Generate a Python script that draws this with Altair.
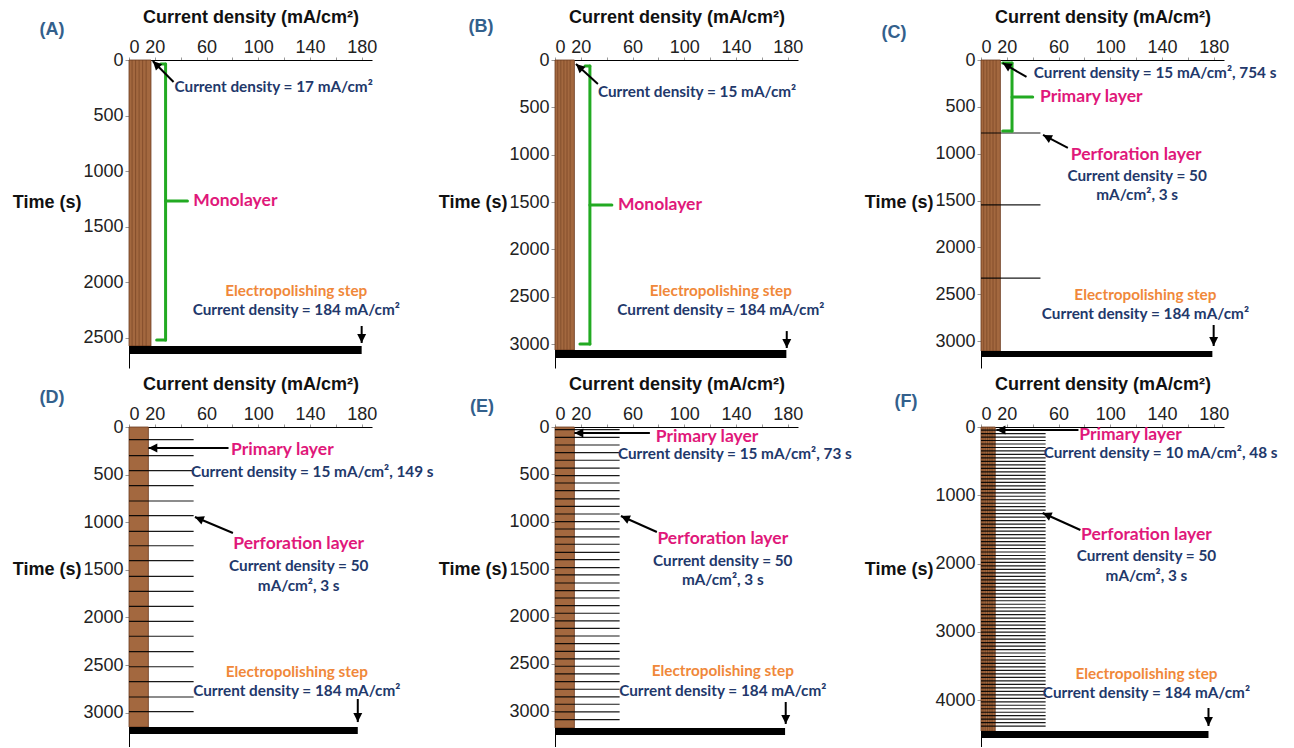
import altair as alt
import pandas as pd

# ---------------- data ----------------
panel_names = ["(A)", "(B)", "(C)", "(D)", "(E)", "(F)"]
primary_cd = [17, 15, 15, 15, 15, 11]            # mA/cm2 (width of the brown column)
polish_start = [2572, 3062, 3106, 3151, 3175, 4451]  # s
polish_end = [2644, 3147, 3170, 3225, 3249, 4553]    # s
polish_cd = [180, 179, 179, 177, 178, 176]
time_max = [2770, 3252, 3287, 3361, 3376, 4685]
time_ticks = [
    [0, 500, 1000, 1500, 2000, 2500],
    [0, 500, 1000, 1500, 2000, 2500, 3000],
    [0, 500, 1000, 1500, 2000, 2500, 3000],
    [0, 500, 1000, 1500, 2000, 2500, 3000],
    [0, 500, 1000, 1500, 2000, 2500, 3000],
    [0, 1000, 2000, 3000, 4000],
]
cd_ticks = [0, 20, 40, 60, 80, 100, 120, 140, 160, 180]
cd_tick_labels = [0, 20, 60, 100, 140, 180]
striped = [True, True, True, False, False, True]

perf_cd = [0, 0, 46, 50, 50, 50]
perf_times = [
    [],
    [],
    [779, 1547, 2327],
    [133, 301, 459, 616, 777, 931, 1096, 1247, 1404, 1568, 1726, 1883, 2041,
     2198, 2360, 2518, 2675, 2836, 2990],
    [28, 109, 190, 271, 351, 433, 514, 591, 672, 759, 837, 918, 999, 1076,
     1160, 1237, 1322, 1400, 1484, 1561, 1646, 1727, 1804, 1885, 1965, 2046,
     2124, 2205, 2286, 2367, 2447, 2524, 2605, 2686, 2767, 2848, 2925, 3006, 3087],
    [45, 96, 147, 198, 249, 300, 351, 402, 453, 504,
     555, 606, 657, 708, 759, 810, 861, 912, 963, 1014,
     1065, 1116, 1167, 1218, 1269, 1320, 1371, 1422, 1473, 1524,
     1575, 1626, 1677, 1728, 1779, 1830, 1881, 1932, 1983, 2034,
     2085, 2136, 2187, 2238, 2289, 2340, 2391, 2442, 2493, 2544,
     2595, 2646, 2697, 2748, 2799, 2850, 2901, 2952, 3003, 3054,
     3105, 3156, 3207, 3258, 3309, 3360, 3411, 3462, 3513, 3564,
     3615, 3666, 3717, 3768, 3819, 3870, 3921, 3972, 4023, 4074,
     4125, 4176, 4227, 4278, 4329, 4380],
]

# annotations: panel, text, x (mA/cm2), t (s), kind, align
ann_panel = [0, 0, 0, 0,
             1, 1, 1, 1,
             2, 2, 2, 2, 2, 2, 2,
             3, 3, 3, 3, 3, 3, 3,
             4, 4, 4, 4, 4, 4, 4,
             5, 5, 5, 5, 5, 5, 5]
ann_text = [
    "Current density = 17 mA/cm²", "Monolayer", "Electropolishing step", "Current density = 184 mA/cm²",
    "Current density = 15 mA/cm²", "Monolayer", "Electropolishing step", "Current density = 184 mA/cm²",
    "Current density = 15 mA/cm², 754 s", "Primary layer", "Perforation layer", "Current density = 50",
    "mA/cm², 3 s", "Electropolishing step", "Current density = 184 mA/cm²",
    "Primary layer", "Current density = 15 mA/cm², 149 s", "Perforation layer", "Current density = 50",
    "mA/cm², 3 s", "Electropolishing step", "Current density = 184 mA/cm²",
    "Primary layer", "Current density = 15 mA/cm², 73 s", "Perforation layer", "Current density = 50",
    "mA/cm², 3 s", "Electropolishing step", "Current density = 184 mA/cm²",
    "Primary layer", "Current density = 10 mA/cm², 48 s", "Perforation layer", "Current density = 50",
    "mA/cm², 3 s", "Electropolishing step", "Current density = 184 mA/cm²",
]
ann_x = [35.2, 49.8, 129.4, 129.4,
         33.2, 48.7, 128.3, 128.3,
         40.8, 45.6, 120.0, 120.8, 120.8, 127.2, 127.2,
         79.0, 47.9, 131.3, 131.3, 131.3, 129.8, 129.8,
         78.0, 48.7, 129.8, 129.8, 129.8, 129.8, 129.8,
         76.0, 48.5, 128.0, 128.0, 128.0, 128.0, 128.0]
ann_t = [243, 1268, 2077, 2248,
         338, 1531, 2439, 2640,
         139, 395, 1014, 1238, 1441, 2508, 2711,
         242, 473, 1229, 1460, 1670, 2574, 2773,
         105, 285, 1181, 1414, 1614, 2574, 2785,
         110, 380, 1581, 1889, 2182, 3616, 3895]
ann_kind = ["navy", "pink", "orange", "navy",
            "navy", "pink", "orange", "navy",
            "navy", "pink", "pink", "navy", "navy", "orange", "navy",
            "pink", "navy", "pink", "navy", "navy", "orange", "navy",
            "pink", "navy", "pink", "navy", "navy", "orange", "navy",
            "pink", "navy", "pink", "navy", "navy", "orange", "navy"]
ann_align = ["left", "left", "center", "center",
             "left", "left", "center", "center",
             "left", "left", "center", "center", "center", "center", "center",
             "left", "left", "center", "center", "center", "center", "center",
             "left", "left", "center", "center", "center", "center", "center",
             "left", "left", "center", "center", "center", "center", "center"]

# arrows: panel, tail (x, t), head (x, t), heading (deg clockwise from up)
arr_panel = [0, 0, 1, 1, 2, 2, 2, 3, 3, 3, 4, 4, 4, 5, 5, 5]
arr_xt = [34.5, 180, 33.2, 179.3, 35.2, 67.2, 180, 77.0, 80.4, 177, 73.4, 78.8, 178.5, 75.4, 76.9, 176]
arr_tt = [198, 2392, 253, 2862, 181, 939, 2828, 221, 1113, 2857, 63, 1108, 2901, 44, 1508, 4114]
arr_xh = [18.4, 180, 16.2, 179.3, 16.8, 48.0, 180, 15.0, 51.0, 177, 15.0, 51.0, 178.5, 12.0, 47.7, 176]
arr_th = [9, 2545, 42, 3041, 32, 800, 3052, 221, 945, 3099, 63, 939, 3133, 44, 1259, 4378]
arr_ang = [315, 180, 312, 180, 301, 298, 180, 270, 293, 180, 270, 294, 180, 270, 294, 180]

# green brackets: panel, segment x..x2 at t..t2
br_panel = [0, 0, 0, 0, 1, 1, 1, 1, 2, 2, 2, 2]
br_x = [28.3, 24.5, 21.4, 28.3, 27.0, 23.2, 19.3, 27.0, 24.0, 16.8, 16.8, 24.0]
br_x2 = [28.3, 28.3, 28.3, 45.2, 27.0, 27.0, 27.0, 44.0, 24.0, 24.0, 24.0, 40.0]
br_t = [36, 36, 2518, 1268, 63, 63, 2999, 1531, 32, 32, 758, 395]
br_t2 = [2518, 36, 2518, 1268, 2999, 63, 2999, 1531, 758, 32, 758, 395]

# ---------------- styles / layout ----------------
FONT_AX = "Liberation Sans"
FONT_ANN = "Lato"
COLORS = {"navy": "#22386B", "pink": "#E0187A", "orange": "#F0883A"}
SIZES = {"navy": 15.3, "pink": 17.5, "orange": 15.3}
GREEN = "#22AA22"
LABEL_BLUE = "#33608C"
BROWN = "#A3683F"
BROWN_DARK = "#6B3A1E"
STRIPE_FRAC = [0.14, 0.3, 0.46, 0.62, 0.78]
ARROW_PATH = "M0,0L-1,2L1,2Z"
PANEL_W = 243
PANEL_H = [308, 308, 308, 320, 320, 320]
LABEL_OFF = [(-77, -30), (-74, -33), (-87, -27), (-77, -29), (-73, -20), (-75, -25)]

label_expr = "indexof(%s, datum.value) >= 0 ? datum.label : ''" % str(cd_tick_labels)


def make_panel(i):
    xs = alt.Scale(domain=[0, 188], nice=False, zero=False)
    ys = alt.Scale(domain=[0, time_max[i]], nice=False, zero=False, reverse=True)
    xax = alt.Axis(orient="top", values=cd_ticks, labelExpr=label_expr,
                   title="Current density (mA/cm²)", titleFont=FONT_AX, titleFontSize=18,
                   titleFontWeight="bold", titleColor="#111", titlePadding=12,
                   labelFont=FONT_AX, labelFontSize=18, labelColor="#222", labelPadding=1,
                   labelOverlap=False, tickSize=3, tickColor="#999", domainColor="#000",
                   grid=False)
    yax = alt.Axis(orient="left", values=time_ticks[i], format="d", title="Time (s)", titleAngle=0,
                   titleAlign="right", titleBaseline="middle", titleX=-48, titleY=142,
                   titleFont=FONT_AX, titleFontSize=18, titleFontWeight="bold", titleColor="#111",
                   labelFont=FONT_AX, labelFontSize=18, labelColor="#222", labelPadding=2,
                   tickSize=4, tickColor="#999", domainColor="#000", grid=False)

    def X(f):
        return alt.X(f"{f}:Q", scale=xs, axis=xax)

    def Y(f):
        return alt.Y(f"{f}:Q", scale=ys, axis=yax)

    layers = []
    brown = pd.DataFrame({"x0": [0], "x1": [primary_cd[i]], "t0": [0], "t1": [polish_start[i]]})
    layers.append(alt.Chart(brown).mark_rect(color=BROWN, stroke=BROWN_DARK, strokeWidth=0.8)
                  .encode(x=X("x0"), x2="x1", y=Y("t0"), y2="t1"))
    if striped[i]:
        st = pd.DataFrame({"x": [f * primary_cd[i] for f in STRIPE_FRAC],
                           "t0": [0] * len(STRIPE_FRAC),
                           "t1": [polish_start[i]] * len(STRIPE_FRAC)})
        layers.append(alt.Chart(st).mark_rule(color=BROWN_DARK, strokeWidth=1, opacity=0.55)
                      .encode(x=X("x"), y=Y("t0"), y2="t1"))
    if perf_times[i]:
        pl = pd.DataFrame({"t": perf_times[i], "x0": [0] * len(perf_times[i]),
                           "x1": [perf_cd[i]] * len(perf_times[i])})
        layers.append(alt.Chart(pl).mark_rule(color="#000", strokeWidth=1.2, opacity=0.9)
                      .encode(x=X("x0"), x2="x1", y=Y("t")))
    bar = pd.DataFrame({"x0": [0], "x1": [polish_cd[i]], "t0": [polish_start[i]], "t1": [polish_end[i]]})
    layers.append(alt.Chart(bar).mark_rect(color="#000")
                  .encode(x=X("x0"), x2="x1", y=Y("t0"), y2="t1"))

    bidx = [k for k, p in enumerate(br_panel) if p == i]
    if bidx:
        bd = pd.DataFrame({"x": [br_x[k] for k in bidx], "x2": [br_x2[k] for k in bidx],
                           "t": [br_t[k] for k in bidx], "t2": [br_t2[k] for k in bidx]})
        layers.append(alt.Chart(bd).mark_rule(color=GREEN, strokeWidth=3, strokeCap="round")
                      .encode(x=X("x"), x2="x2", y=Y("t"), y2="t2"))

    aidx = [k for k, p in enumerate(arr_panel) if p == i]
    ad = pd.DataFrame({"xt": [arr_xt[k] for k in aidx], "tt": [arr_tt[k] for k in aidx],
                       "xh": [arr_xh[k] for k in aidx], "th": [arr_th[k] for k in aidx],
                       "ang": [arr_ang[k] for k in aidx]})
    layers.append(alt.Chart(ad).mark_rule(color="#000", strokeWidth=2)
                  .encode(x=X("xt"), x2="xh", y=Y("tt"), y2="th"))
    layers.append(alt.Chart(ad).mark_point(shape=ARROW_PATH, filled=True, size=80, color="#000", opacity=1)
                  .encode(x=X("xh"), y=Y("th"), angle=alt.Angle("ang:Q", scale=None)))

    for kind in ["navy", "pink", "orange"]:
        for al in ["left", "center"]:
            idx = [k for k, p in enumerate(ann_panel)
                   if p == i and ann_kind[k] == kind and ann_align[k] == al]
            if not idx:
                continue
            td = pd.DataFrame({"label": [ann_text[k] for k in idx],
                               "x": [ann_x[k] for k in idx], "t": [ann_t[k] for k in idx]})
            layers.append(alt.Chart(td).mark_text(font=FONT_ANN, fontWeight="bold",
                                                  fontSize=SIZES[kind], color=COLORS[kind],
                                                  align=al, baseline="middle")
                          .encode(x=X("x"), y=Y("t"), text="label:N"))

    dx, dy = LABEL_OFF[i]
    lab = pd.DataFrame({"lab": [panel_names[i]]})
    layers.append(alt.Chart(lab).mark_text(font=FONT_AX, fontSize=18, fontWeight="bold",
                                           color=LABEL_BLUE, align="center", baseline="middle")
                  .encode(x=alt.value(dx), y=alt.value(dy), text="lab:N"))

    return alt.layer(*layers).properties(width=PANEL_W, height=PANEL_H[i])


chart = (
    alt.concat(*[make_panel(i) for i in range(6)], columns=3,
               spacing={"row": 59, "column": 183}, bounds="flush")
    .properties(padding={"left": 4, "top": 0, "right": 0, "bottom": 0}, background="white")
    .configure_view(strokeWidth=0)
)

chart.save("out.html", embed_options={"renderer": "svg", "actions": False})
